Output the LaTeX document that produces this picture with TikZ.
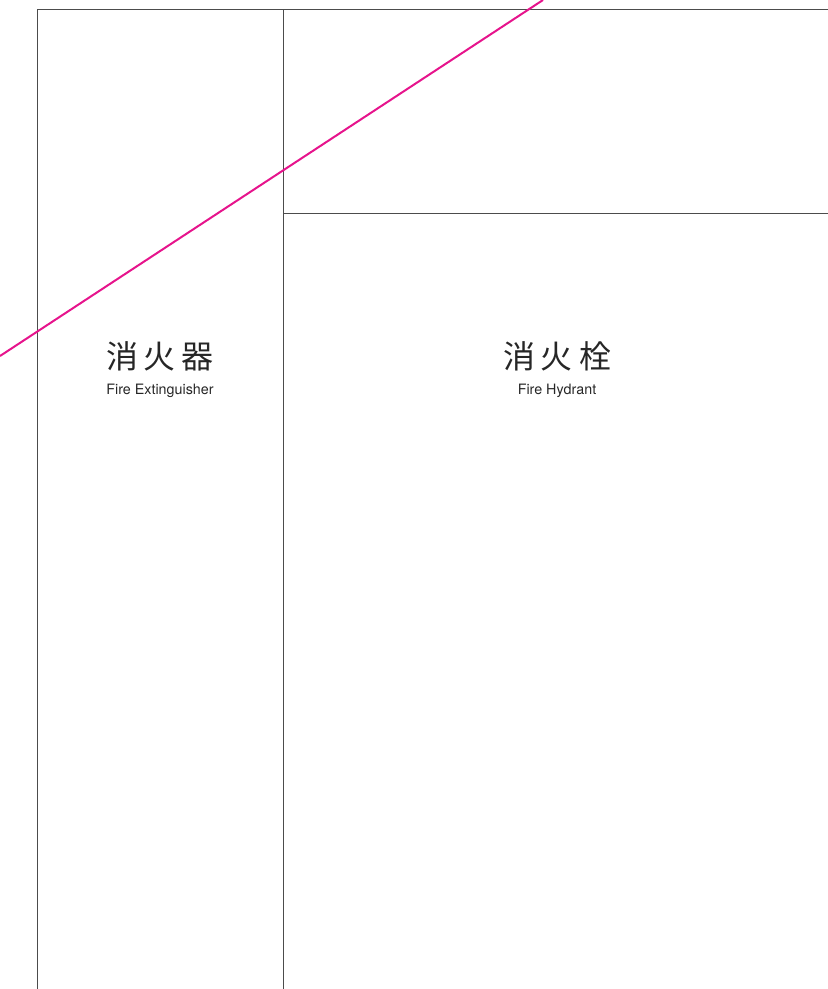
\documentclass[tikz,border=0pt]{standalone}
\usepackage{fontspec}
\setmainfont{TeX Gyre Heros}
\newfontfamily\cjk{Noto Sans CJK JP}
\usetikzlibrary{positioning}

\begin{document}
\begin{tikzpicture}[x=1pt,y=-1pt,
  frame/.style={draw=black!70,line width=0.8pt},
  cut/.style={draw={rgb,255:red,230;green,20;blue,140},line width=2pt},
  kanji/.style={inner sep=0pt,text=black!85,font=\cjk\fontsize{32}{32}\selectfont},
  caption/.style={inner sep=0pt,text=black!85,font=\fontsize{14.3}{15}\selectfont}]
\useasboundingbox (0,0) rectangle (828,989);

% define the frame corners
  \coordinate (tl) at (37,9);
  \coordinate (tm) at (283,9);
  \coordinate (tr) at (828,9);
  \coordinate (bl) at (37,989);
  \coordinate (bm) at (283,989);
  \coordinate (ml) at (283,213);
  \coordinate (mr) at (828,213);

% define the slanted line ends
  \coordinate (s1) at (0,356);
  \coordinate (s2) at (543,0);

% define the labels
  \node[kanji]   (ext)  at (160,356) {消\hspace{6pt}火\hspace{6pt}器};
  \node[caption] (extE) [below=13pt of ext] {Fire Extinguisher};
  \node[kanji]   (hyd)  at (557,356) {消\hspace{6pt}火\hspace{6pt}栓};
  \node[caption] (hydE) [below=13pt of hyd] {Fire Hydrant};

% define the lines
  \path[frame] (bl) -- (tl) -- (tr)
        (tm) -- (bm)
        (ml) -- (mr);
  \path[cut] (s1) -- (s2);

\end{tikzpicture}
\end{document}
